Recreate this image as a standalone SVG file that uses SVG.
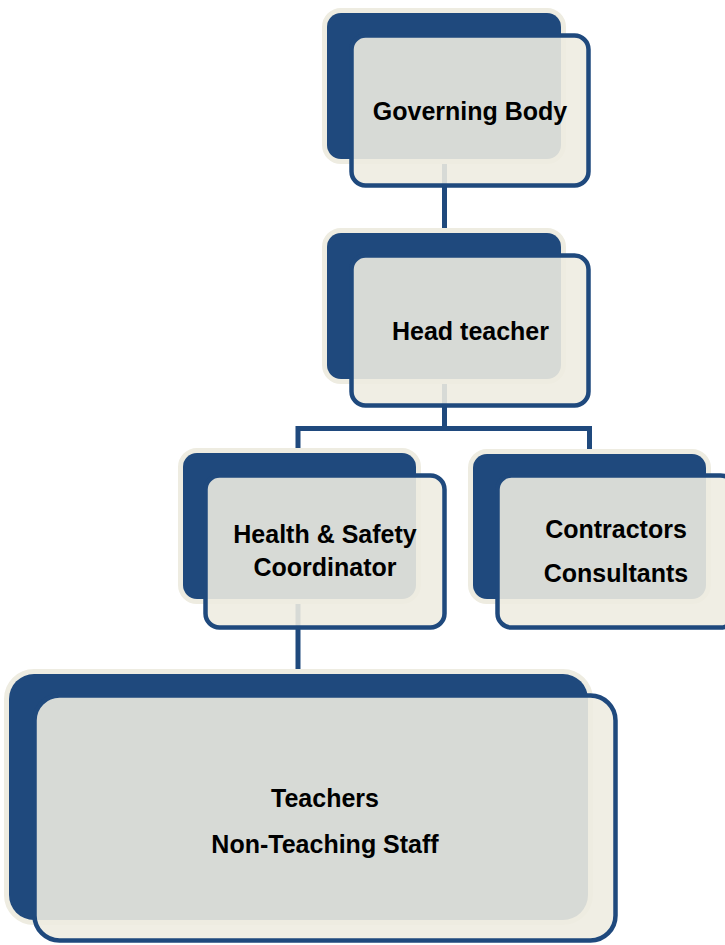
<svg xmlns="http://www.w3.org/2000/svg" width="725" height="945" viewBox="0 0 725 945">
<style>
.back{fill:#1f497d;stroke:#eeece1;stroke-width:10;paint-order:stroke}
.front{fill:#eeece1;fill-opacity:0.89;stroke:#1f497d;stroke-width:4.5}
.conn{fill:none;stroke:#1f497d;stroke-width:5;stroke-linejoin:miter}
text{font-family:"Liberation Sans",Arial,sans-serif;font-weight:bold;font-size:25px;fill:#000;text-anchor:middle}
</style>
<rect width="725" height="945" fill="#ffffff"/>
<g id="connectors">
<path class="conn" d="M444.5 158 V234"/>
<path class="conn" d="M444.5 378 V428.5"/>
<path class="conn" d="M298 454 V428.5 H589.5 V455"/>
<path class="conn" d="M298 598 V675"/>
</g>
<g id="governing-body">
<rect class="back" x="327" y="13" width="234" height="146" rx="14"/>
<rect class="front" x="351.5" y="35.5" width="237" height="150" rx="14"/>
<text x="470" y="120">Governing Body</text>
</g>
<g id="head-teacher">
<rect class="back" x="327" y="233" width="234" height="146" rx="14"/>
<rect class="front" x="351.5" y="255.5" width="237" height="150" rx="14"/>
<text x="470.5" y="340">Head teacher</text>
</g>
<g id="health-safety">
<rect class="back" x="183" y="453" width="233" height="146" rx="14"/>
<rect class="front" x="205.5" y="475.5" width="239" height="152" rx="14"/>
<text x="325" y="543">Health &amp; Safety</text>
<text x="325" y="576">Coordinator</text>
</g>
<g id="contractors">
<rect class="back" x="473" y="454" width="233" height="145" rx="14"/>
<rect class="front" x="497.5" y="475.5" width="237" height="152" rx="14"/>
<text x="616" y="538">Contractors</text>
<text x="616" y="582">Consultants</text>
</g>
<g id="teachers">
<rect class="back" x="9" y="674" width="579" height="246" rx="25"/>
<rect class="front" x="34.5" y="695.5" width="581" height="245" rx="25"/>
<text x="325" y="807">Teachers</text>
<text x="325" y="853">Non-Teaching Staff</text>
</g>
</svg>
